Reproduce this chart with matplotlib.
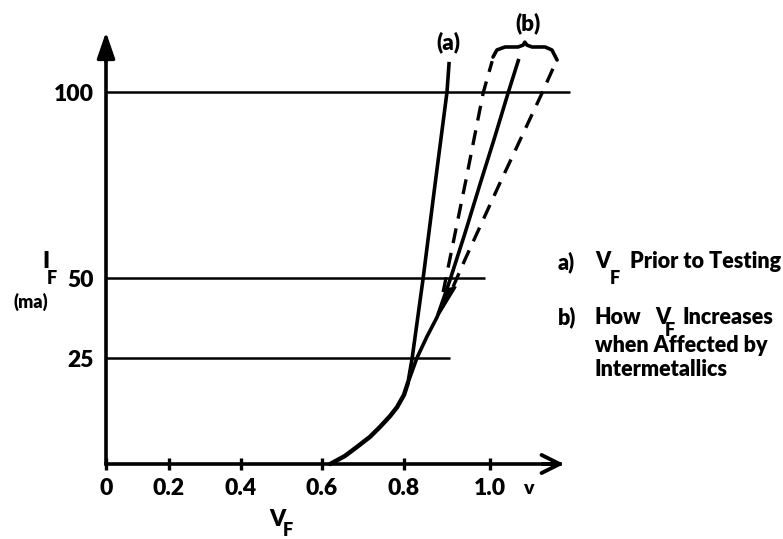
import numpy as np
import matplotlib
matplotlib.use("Agg")
import matplotlib.pyplot as plt
from matplotlib.patches import Polygon

# ---------------- data ----------------
x_ticks = [0, 0.2, 0.4, 0.6, 0.8, 1.0]
x_tick_labels = ["0", "0.2", "0.4", "0.6", "0.8", "1.0"]
y_ticks = [25, 50, 100]
y_tick_labels = ["25", "50", "100"]
ref_line_end_v = [0.907, 0.988, 1.186]      # right end of the 25 / 50 / 100 ma lines

# shared knee of the diode curve
knee_v = [0.62, 0.656, 0.685, 0.717, 0.741, 0.766, 0.783, 0.80, 0.809]
knee_i = [0.0, 1.9, 4.0, 6.4, 8.7, 11.3, 13.4, 16.3, 19.1]
# (a) V_F prior to testing
a_v = [0.809, 0.819, 0.844, 0.872, 0.900, 0.905]
a_i = [19.1, 25.0, 49.4, 75.0, 100.0, 108.1]
# (b) after intermetallics - solid centre curve
b_v = [0.809, 0.830, 0.853, 0.877, 0.907, 0.942, 0.977, 1.009, 1.042, 1.067]
b_i = [19.1, 25.0, 31.6, 37.8, 49.4, 62.1, 75.3, 87.1, 99.7, 108.9]
# (b) dashed spread limits
b_low_v = [0.891, 0.944, 0.984, 1.005]
b_low_i = [45.6, 76.3, 99.7, 108.3]
b_high_v = [0.914, 0.942, 1.019, 1.121, 1.153]
b_high_i = [47.2, 55.0, 74.5, 99.7, 108.0]
# wedge where the dashed limits merge into the curve
merge_v = [0.900, 0.921, 0.870]
merge_i = [46.6, 47.2, 35.9]
# brace grouping the (b) curves
brace_v = [1.007, 1.016, 1.035, 1.065, 1.077, 1.081, 1.086, 1.098, 1.128, 1.144, 1.156]
brace_i = [109.4, 111.3, 112.1, 112.1, 112.6, 113.4, 112.6, 112.1, 112.1, 111.3, 108.6]
y_axis_top = 116.1
x_axis_end = 1.172

# ---------------- hand-drawn (uneven) axis scales ----------------
W, H = 783, 539
X_KNOT_V = [0, 0.2, 0.4, 0.6, 0.8, 1.0]
X_KNOT_PX = [106, 169, 241, 322, 404, 490]
Y_KNOT_V = [0, 25, 50, 100]
Y_KNOT_PX = [464, 358, 278, 92]


def _extend(v, p):
    v = list(map(float, v)); p = list(map(float, p))
    s0 = (p[1] - p[0]) / (v[1] - v[0])
    s1 = (p[-1] - p[-2]) / (v[-1] - v[-2])
    big = 1000.0
    return (np.array([v[0] - big] + v + [v[-1] + big]),
            np.array([p[0] - big * s0] + p + [p[-1] + big * s1]))


xv, xp = _extend(X_KNOT_V, X_KNOT_PX)
yv, yp = _extend(Y_KNOT_V, Y_KNOT_PX)


def fx(v):
    return np.interp(np.asarray(v, float), xv, xp)


def ix(p):
    return np.interp(np.asarray(p, float), xp, xv)


def fy(v):
    return -np.interp(np.asarray(v, float), yv, yp)


def iy(t):
    return np.interp(-np.asarray(t, float), yp[::-1], yv[::-1])


plt.rcParams['font.family'] = ['Lato', 'DejaVu Sans']
plt.rcParams['font.weight'] = 'heavy'
WEIGHT = 'heavy'

fig = plt.figure(figsize=(7.83, 5.39), dpi=100)
ax = fig.add_axes([0, 0, 1, 1])
ax.set_xscale('function', functions=(fx, ix))
ax.set_yscale('function', functions=(fy, iy))
ax.set_xlim(float(ix(0)), float(ix(W)))
ax.set_ylim(float(iy(-H)), float(iy(0)))
ax.patch.set_alpha(0)

# axes
for s in ['top', 'right']:
    ax.spines[s].set_visible(False)
ax.spines['left'].set_position(('data', 0))
ax.spines['bottom'].set_position(('data', 0))
ax.spines['left'].set_bounds(0, y_axis_top - 5)
ax.spines['bottom'].set_bounds(0, x_axis_end - 0.01)
ax.spines['left'].set_linewidth(2.6)
ax.spines['bottom'].set_linewidth(2.6)
ax.spines['left'].set_capstyle('round')

ax.set_xticks(x_ticks, x_tick_labels)
ax.set_yticks(y_ticks, y_tick_labels)
ax.tick_params(axis='x', direction='inout', length=9, width=2.4, pad=5.5, labelsize=16.5)
ax.tick_params(axis='y', length=0, pad=9, labelsize=16.5)
for lab in ax.get_xticklabels() + ax.get_yticklabels():
    lab.set_fontweight(WEIGHT)

# arrowheads
ax.annotate('', xy=(0, y_axis_top), xytext=(0, y_axis_top - 8),
            arrowprops=dict(arrowstyle='-|>,head_length=1.6,head_width=0.55',
                            mutation_scale=10, lw=2.4, color='black',
                            shrinkA=0, shrinkB=0))
ax.annotate('', xy=(x_axis_end, 0), xytext=(x_axis_end - 0.05, 0),
            arrowprops=dict(arrowstyle='->,head_length=1.3,head_width=0.65',
                            mutation_scale=10, lw=2.8, color='black',
                            shrinkA=0, shrinkB=0))

# reference lines
ax.hlines(y_ticks, 0, ref_line_end_v, colors='black', lw=1.8)

# curves
ax.plot(knee_v, knee_i, color='black', lw=3.2, solid_capstyle='round', solid_joinstyle='round')
ax.plot(a_v, a_i, color='black', lw=2.6, solid_capstyle='butt')
ax.plot(b_v, b_i, color='black', lw=2.6, solid_capstyle='butt')
ax.plot(b_low_v, b_low_i, color='black', lw=2.4, linestyle=(0, (4.5, 3)))
ax.plot(b_high_v, b_high_i, color='black', lw=2.4, linestyle=(0, (4.5, 3)))
ax.add_patch(Polygon(np.column_stack([merge_v, merge_i]), closed=True,
                     facecolor='black', edgecolor='black', lw=1))
ax.plot(brace_v, brace_i, color='black', lw=2.6, solid_joinstyle='round',
        solid_capstyle='round')


# ---------------- texts ----------------
def T(x, y, s, size=15.5, ha='left', va='center'):
    fig.text(x / W, 1 - y / H, s, fontsize=size, ha=ha, va=va, fontweight=WEIGHT)


T(448, 42, "(a)", size=16, ha='center')
T(528, 23, "(b)", size=16, ha='center')
T(523, 489, "v", size=14)

T(277, 519, "V", size=16.5, ha='center')
T(288, 530, "F", size=13, ha='center')

T(46, 262, "I", size=16.5, ha='center')
T(52, 279, "F", size=13, ha='center')
T(31, 302, "(ma)", size=13, ha='center')

T(558, 262, "a)")
T(595, 262, "V")
T(610, 279, "F", size=13)
T(630, 262, "Prior to Testing")
T(558, 317, "b)")
T(595, 317, "How")
T(655, 317, "V")
T(665, 331, "F", size=13)
T(683, 317, "Increases")
T(595, 345, "when Affected by")
T(595, 370, "Intermetallics")

fig.savefig("out.png", dpi=100)
